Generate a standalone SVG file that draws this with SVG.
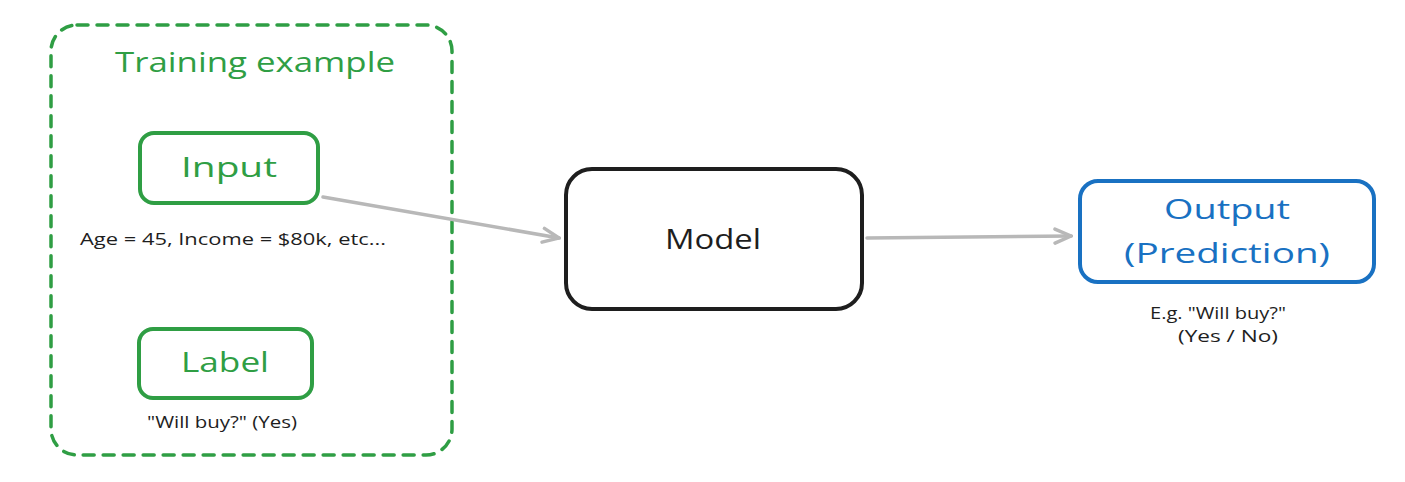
<svg xmlns="http://www.w3.org/2000/svg" width="1405" height="482" viewBox="0 0 1405 482">
<style>
text{font-family:"Open Sans","Liberation Sans",sans-serif;text-anchor:middle}
.g{fill:#2f9e44}
.b{fill:#1971c2}
.k{fill:#1e1e1e}
.big{font-size:28px}
.sm{font-size:16px}
.conn{fill:none;stroke:#b8b8b8;stroke-width:3.5;stroke-linecap:round;stroke-linejoin:round}
</style>
<defs>
<marker id="arr" viewBox="0 0 20 20" refX="18" refY="10" markerWidth="20" markerHeight="20" markerUnits="userSpaceOnUse" orient="auto">
<path d="M2 3 L18 10 L2 17" fill="none" stroke="#b8b8b8" stroke-width="3.5" stroke-linecap="round"/>
</marker>
</defs>
<rect width="1405" height="482" fill="#ffffff"/>
<g id="training-example">
<rect x="51" y="25" width="401" height="430" rx="26" fill="none" stroke="#2f9e44" stroke-width="3.5" stroke-dasharray="11 9" stroke-linecap="round"/>
<text class="g big" x="255" y="72" textLength="280" lengthAdjust="spacingAndGlyphs">Training example</text>
</g>
<g id="input">
<rect x="140" y="133" width="178" height="70" rx="14" fill="none" stroke="#2f9e44" stroke-width="4"/>
<text class="g big" x="229" y="177" textLength="96" lengthAdjust="spacingAndGlyphs">Input</text>
<text class="k sm" x="233" y="245" textLength="306" lengthAdjust="spacingAndGlyphs">Age = 45, Income = $80k, etc...</text>
</g>
<g id="label">
<rect x="139" y="329" width="173" height="69" rx="14" fill="none" stroke="#2f9e44" stroke-width="4"/>
<text class="g big" x="225" y="372" textLength="88" lengthAdjust="spacingAndGlyphs">Label</text>
<text class="k sm" x="222" y="428" textLength="150" lengthAdjust="spacingAndGlyphs">"Will buy?" (Yes)</text>
</g>
<g id="model">
<rect x="566" y="169" width="296" height="140" rx="26" fill="none" stroke="#1e1e1e" stroke-width="4"/>
<text class="k big" x="713" y="249" textLength="96" lengthAdjust="spacingAndGlyphs">Model</text>
</g>
<g id="output">
<rect x="1080" y="181" width="294" height="101" rx="18" fill="none" stroke="#1971c2" stroke-width="4"/>
<text class="b big" x="1227" y="219" textLength="126" lengthAdjust="spacingAndGlyphs">Output</text>
<text class="b big" x="1227" y="263" textLength="206" lengthAdjust="spacingAndGlyphs">(Prediction)</text>
<text class="k sm" x="1218" y="319" textLength="136" lengthAdjust="spacingAndGlyphs">E.g. "Will buy?"</text>
<text class="k sm" x="1228" y="342" textLength="100" lengthAdjust="spacingAndGlyphs">(Yes / No)</text>
</g>
<g id="connectors">
<path class="conn" d="M323 197 L559 238" marker-end="url(#arr)"/>
<path class="conn" d="M867 238 L1071 236" marker-end="url(#arr)"/>
</g>
</svg>
